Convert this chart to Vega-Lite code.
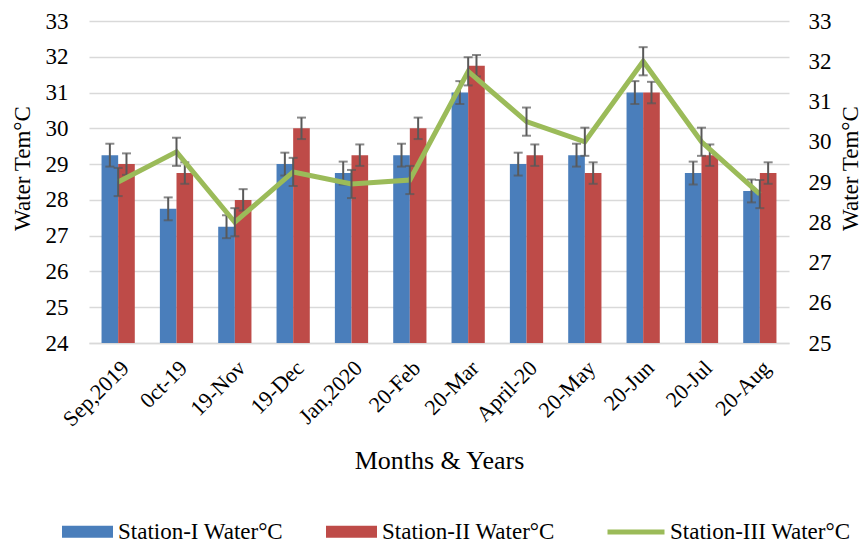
{
  "$schema": "https://vega.github.io/schema/vega-lite/v6.json",
  "width": 700,
  "height": 322,
  "autosize": "none",
  "padding": {"left": 89, "top": 21, "right": 77, "bottom": 202},
  "background": "white",
  "config": {
    "view": {"stroke": null},
    "font": "Liberation Serif",
    "axis": {"labelFont": "Liberation Serif", "titleFont": "Liberation Serif", "labelColor": "#000", "titleColor": "#000", "titleFontWeight": "normal", "labelOverlap": false, "labelFlush": false},
    "legend": {"labelFont": "Liberation Serif", "labelFontSize": 23, "labelColor": "#000", "labelLimit": 400}
  },
  "datasets": {
    "t": [
      {"m": "Sep,2019", "s": "Station-I Water°C", "v": 29.25, "lo": 28.93, "hi": 29.57},
      {"m": "0ct-19", "s": "Station-I Water°C", "v": 27.75, "lo": 27.43, "hi": 28.07},
      {"m": "19-Nov", "s": "Station-I Water°C", "v": 27.25, "lo": 26.93, "hi": 27.57},
      {"m": "19-Dec", "s": "Station-I Water°C", "v": 29.0, "lo": 28.68, "hi": 29.32},
      {"m": "Jan,2020", "s": "Station-I Water°C", "v": 28.75, "lo": 28.43, "hi": 29.07},
      {"m": "20-Feb", "s": "Station-I Water°C", "v": 29.25, "lo": 28.93, "hi": 29.57},
      {"m": "20-Mar", "s": "Station-I Water°C", "v": 31.0, "lo": 30.68, "hi": 31.32},
      {"m": "April-20", "s": "Station-I Water°C", "v": 29.0, "lo": 28.68, "hi": 29.32},
      {"m": "20-May", "s": "Station-I Water°C", "v": 29.25, "lo": 28.93, "hi": 29.57},
      {"m": "20-Jun", "s": "Station-I Water°C", "v": 31.0, "lo": 30.68, "hi": 31.32},
      {"m": "20-Jul", "s": "Station-I Water°C", "v": 28.75, "lo": 28.43, "hi": 29.07},
      {"m": "20-Aug", "s": "Station-I Water°C", "v": 28.25, "lo": 27.93, "hi": 28.57},
      {"m": "Sep,2019", "s": "Station-II Water°C", "v": 29.0, "lo": 28.7, "hi": 29.3},
      {"m": "0ct-19", "s": "Station-II Water°C", "v": 28.75, "lo": 28.45, "hi": 29.05},
      {"m": "19-Nov", "s": "Station-II Water°C", "v": 28.0, "lo": 27.7, "hi": 28.3},
      {"m": "19-Dec", "s": "Station-II Water°C", "v": 30.0, "lo": 29.7, "hi": 30.3},
      {"m": "Jan,2020", "s": "Station-II Water°C", "v": 29.25, "lo": 28.95, "hi": 29.55},
      {"m": "20-Feb", "s": "Station-II Water°C", "v": 30.0, "lo": 29.7, "hi": 30.3},
      {"m": "20-Mar", "s": "Station-II Water°C", "v": 31.75, "lo": 31.45, "hi": 32.05},
      {"m": "April-20", "s": "Station-II Water°C", "v": 29.25, "lo": 28.95, "hi": 29.55},
      {"m": "20-May", "s": "Station-II Water°C", "v": 28.75, "lo": 28.45, "hi": 29.05},
      {"m": "20-Jun", "s": "Station-II Water°C", "v": 31.0, "lo": 30.7, "hi": 31.3},
      {"m": "20-Jul", "s": "Station-II Water°C", "v": 29.25, "lo": 28.95, "hi": 29.55},
      {"m": "20-Aug", "s": "Station-II Water°C", "v": 28.75, "lo": 28.45, "hi": 29.05}
    ],
    "l": [
      {"m": "Sep,2019", "s": "Station-III Water°C", "v": 29.0, "lo": 28.65, "hi": 29.35},
      {"m": "0ct-19", "s": "Station-III Water°C", "v": 29.75, "lo": 29.4, "hi": 30.1},
      {"m": "19-Nov", "s": "Station-III Water°C", "v": 28.0, "lo": 27.65, "hi": 28.35},
      {"m": "19-Dec", "s": "Station-III Water°C", "v": 29.25, "lo": 28.9, "hi": 29.6},
      {"m": "Jan,2020", "s": "Station-III Water°C", "v": 28.95, "lo": 28.6, "hi": 29.3},
      {"m": "20-Feb", "s": "Station-III Water°C", "v": 29.05, "lo": 28.7, "hi": 29.4},
      {"m": "20-Mar", "s": "Station-III Water°C", "v": 31.75, "lo": 31.4, "hi": 32.1},
      {"m": "April-20", "s": "Station-III Water°C", "v": 30.5, "lo": 30.15, "hi": 30.85},
      {"m": "20-May", "s": "Station-III Water°C", "v": 30.0, "lo": 29.65, "hi": 30.35},
      {"m": "20-Jun", "s": "Station-III Water°C", "v": 32.0, "lo": 31.65, "hi": 32.35},
      {"m": "20-Jul", "s": "Station-III Water°C", "v": 30.0, "lo": 29.65, "hi": 30.35},
      {"m": "20-Aug", "s": "Station-III Water°C", "v": 28.7, "lo": 28.35, "hi": 29.05}
    ]
  },
  "encoding": {
    "x": {
      "field": "m", "type": "nominal", "sort": null,
      "scale": {"paddingInner": 0.43, "paddingOuter": 0.215},
      "axis": {
        "labelAngle": -45, "labelFontSize": 22, "labelPadding": 14,
        "ticks": false, "domainColor": "#d9d9d9", "domainWidth": 1.5,
        "title": "Months & Years", "titleFontSize": 26, "titlePadding": 17
      }
    }
  },
  "layer": [
    {
      "data": {"name": "t"},
      "mark": {"type": "bar"},
      "encoding": {
        "xOffset": {"field": "s", "type": "nominal", "sort": null},
        "y": {
          "field": "v", "type": "quantitative",
          "scale": {"domain": [24, 33], "zero": false, "nice": false},
          "axis": {
            "values": [24, 25, 26, 27, 28, 29, 30, 31, 32, 33],
            "domain": false, "ticks": false, "grid": true, "gridColor": "#d9d9d9", "gridWidth": 1.5,
            "labelFontSize": 23, "labelPadding": 21, "labelOverlap": false,
            "title": "Water Tem°C", "titleFontSize": 23, "titlePadding": 11, "titleY": 147
          }
        },
        "y2": {"datum": 24},
        "color": {
          "field": "s", "type": "nominal",
          "scale": {"domain": ["Station-I Water°C", "Station-II Water°C"], "range": ["#4a7ebb", "#be4b48"]},
          "legend": {
            "orient": "none", "legendX": -27, "legendY": 485, "title": null, "direction": "horizontal",
            "labelFont": "Liberation Serif", "labelFontSize": 23, "labelOffset": 5, "labelLimit": 400,
            "symbolType": "M-1,-0.235H1V0.235H-1Z", "symbolSize": 2601, "symbolStrokeWidth": 0,
            "columnPadding": 42
          }
        }
      }
    },
    {
      "data": {"name": "t"},
      "mark": {"type": "rule", "color": "#595959", "strokeWidth": 2},
      "encoding": {
        "xOffset": {"field": "s", "type": "nominal", "sort": null},
        "y": {"field": "lo", "type": "quantitative", "scale": {"domain": [24, 33], "zero": false, "nice": false}, "axis": null},
        "y2": {"field": "hi"}
      }
    },
    {
      "data": {"name": "t"},
      "mark": {"type": "tick", "color": "#595959", "thickness": 2, "size": 9},
      "encoding": {
        "xOffset": {"field": "s", "type": "nominal", "sort": null},
        "y": {"field": "lo", "type": "quantitative", "scale": {"domain": [24, 33], "zero": false, "nice": false}, "axis": null}
      }
    },
    {
      "data": {"name": "t"},
      "mark": {"type": "tick", "color": "#595959", "thickness": 2, "size": 9},
      "encoding": {
        "xOffset": {"field": "s", "type": "nominal", "sort": null},
        "y": {"field": "hi", "type": "quantitative", "scale": {"domain": [24, 33], "zero": false, "nice": false}, "axis": null}
      }
    },
    {
      "data": {"name": "l"},
      "mark": {"type": "line", "strokeWidth": 5},
      "encoding": {
        "y": {
          "field": "v", "type": "quantitative",
          "scale": {"domain": [25, 33], "zero": false, "nice": false},
          "axis": {
            "orient": "right",
            "values": [25, 26, 27, 28, 29, 30, 31, 32, 33],
            "domain": false, "ticks": false, "grid": false,
            "labelFontSize": 23, "labelPadding": 19, "labelOverlap": false,
            "title": "Water Tem°C", "titleFontSize": 23, "titlePadding": 31, "titleAngle": 270, "titleY": 147
          }
        },
        "color": {
          "field": "s", "type": "nominal",
          "scale": {"domain": ["Station-III Water°C"], "range": ["#9bbb59"]},
          "legend": {
            "orient": "none", "legendX": 516, "legendY": 480, "title": null, "direction": "horizontal",
            "labelFont": "Liberation Serif", "labelFontSize": 23, "labelOffset": 3, "labelLimit": 400,
            "symbolType": "stroke", "symbolSize": 3249, "symbolStrokeWidth": 5
          }
        }
      }
    },
    {
      "data": {"name": "l"},
      "mark": {"type": "rule", "color": "#595959", "strokeWidth": 2},
      "encoding": {
        "y": {"field": "lo", "type": "quantitative", "scale": {"domain": [25, 33], "zero": false, "nice": false}, "axis": null},
        "y2": {"field": "hi"}
      }
    },
    {
      "data": {"name": "l"},
      "mark": {"type": "tick", "color": "#595959", "thickness": 2, "size": 9},
      "encoding": {
        "y": {"field": "lo", "type": "quantitative", "scale": {"domain": [25, 33], "zero": false, "nice": false}, "axis": null}
      }
    },
    {
      "data": {"name": "l"},
      "mark": {"type": "tick", "color": "#595959", "thickness": 2, "size": 9},
      "encoding": {
        "y": {"field": "hi", "type": "quantitative", "scale": {"domain": [25, 33], "zero": false, "nice": false}, "axis": null}
      }
    }
  ],
  "resolve": {"scale": {"y": "independent", "color": "independent"}, "legend": {"color": "independent"}}
}
